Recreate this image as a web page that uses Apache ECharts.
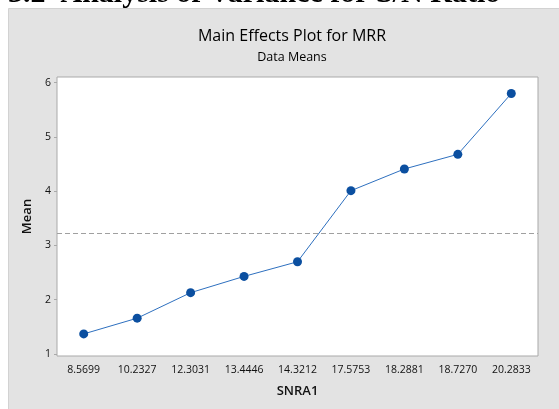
<!DOCTYPE html>
<html>
<head>
<meta charset="utf-8">
<script src="https://cdn.jsdelivr.net/npm/echarts@6/dist/echarts.min.js"></script>
<style>
  html, body { margin: 0; padding: 0; background: #fff; }
  #chart { width: 559px; height: 409px; }
</style>
</head>
<body>
<div id="chart"></div>
<script>
// levels of SNRA1 and the mean MRR at each level
var levels = ['8.5699', '10.2327', '12.3031', '13.4446', '14.3212', '17.5753', '18.2881', '18.7270', '20.2833'];
var means = [1.37, 1.66, 2.13, 2.43, 2.70, 4.01, 4.41, 4.68, 5.80];
var overallMean = 3.23;
var yTicks = [1, 2, 3, 4, 5, 6];

var font = 'Open Sans';
var chart = echarts.init(document.getElementById('chart'));

chart.setOption({
  backgroundColor: '#fff',
  animation: false,
  graphic: [
    {
      // heading of the page the plot was cut from, mostly cropped away
      type: 'text', left: 8, top: -21, z: -3,
      style: { text: '3.2  Analysis of Variance for S/N Ratio', font: 'bold 30px "Liberation Serif"', fill: '#000' }
    },
    {
      type: 'rect', z: -2,
      shape: { x: 8.5, y: 8.5, width: 560, height: 410 },
      style: { fill: '#e3e3e3', stroke: '#d2d2d2', lineWidth: 1 }
    }
  ],
  title: {
    text: 'Main Effects Plot for MRR',
    subtext: 'Data Means',
    left: 287,
    textAlign: 'center',
    top: 23,
    itemGap: 7,
    textStyle: { fontFamily: font, fontSize: 16, fontWeight: 'normal', color: '#000' },
    subtextStyle: { fontFamily: font, fontSize: 12.5, color: '#000' }
  },
  grid: {
    left: 57, right: 21, top: 77, bottom: 53,
    show: true, backgroundColor: '#fff', borderColor: '#a9a9a9', borderWidth: 1
  },
  xAxis: {
    type: 'category',
    data: levels,
    name: 'SNRA1',
    nameLocation: 'middle',
    nameGap: 29,
    nameTextStyle: { fontFamily: font, fontSize: 13, fontWeight: 600, color: '#111' },
    axisLine: { show: false },
    axisTick: { alignWithLabel: true, length: 4, lineStyle: { color: '#a9a9a9' } },
    axisLabel: { fontFamily: font, fontSize: 10.5, color: '#111', margin: 9 },
    splitLine: { show: false }
  },
  yAxis: {
    type: 'value',
    min: 0.963,
    max: 6.105,
    name: 'Mean',
    nameLocation: 'middle',
    nameGap: 19,
    nameTextStyle: { fontFamily: font, fontSize: 13, fontWeight: 600, color: '#111' },
    axisLine: { show: false },
    axisTick: { show: true, length: 3, customValues: yTicks, lineStyle: { color: '#a9a9a9' } },
    axisLabel: { fontFamily: font, fontSize: 10.5, color: '#111', margin: 6, customValues: yTicks },
    splitLine: { show: false }
  },
  series: [{
    type: 'line',
    data: means,
    symbol: 'circle',
    symbolSize: 9,
    lineStyle: { color: '#2e70bf', width: 1 },
    itemStyle: { color: '#0b4fa0' },
    markLine: {
      silent: true,
      symbol: 'none',
      label: { show: false },
      lineStyle: { color: '#a0a0a0', type: [5, 3], width: 1 },
      data: [{ yAxis: overallMean }]
    }
  }]
});
</script>
</body>
</html>
